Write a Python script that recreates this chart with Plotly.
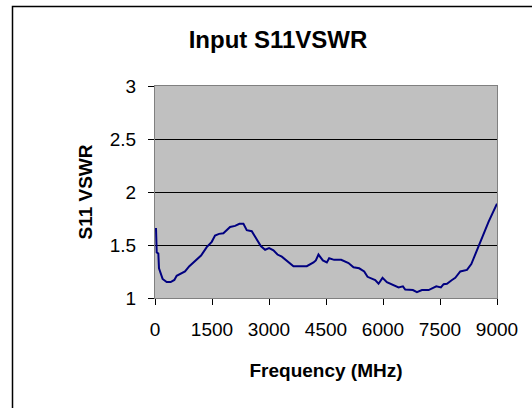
import plotly.graph_objects as go

title_text = "Input S11VSWR"
x_title = "Frequency (MHz)"
y_title = "S11 VSWR"

freq_mhz = [26, 45, 88, 105, 200, 307, 413, 509, 570, 702, 790, 904, 1054, 1212, 1361,
            1493, 1580, 1686, 1800, 1976, 2107, 2221, 2327, 2415, 2546, 2678, 2784, 2898,
            3003, 3117, 3223, 3337, 3468, 3644, 3776, 3995, 4171, 4232, 4302, 4417, 4522,
            4583, 4715, 4900, 5093, 5224, 5373, 5505, 5593, 5795, 5883, 5988, 6102, 6278,
            6410, 6524, 6585, 6787, 6893, 7024, 7200, 7402, 7524, 7595, 7683, 7815, 7902,
            8034, 8210, 8324, 8517, 8693, 8780, 9000]
vswr = [1.66, 1.43, 1.42, 1.28, 1.18, 1.15, 1.15, 1.17, 1.21, 1.235, 1.25, 1.30, 1.35, 1.40, 1.48,
        1.53, 1.59, 1.605, 1.61, 1.67, 1.68, 1.70, 1.70, 1.64, 1.63, 1.55, 1.49, 1.455,
        1.47, 1.45, 1.41, 1.39, 1.355, 1.30, 1.30, 1.30, 1.335, 1.355, 1.41, 1.355, 1.335,
        1.375, 1.36, 1.36, 1.33, 1.29, 1.28, 1.25, 1.20, 1.17, 1.135, 1.19, 1.15, 1.12,
        1.10, 1.11, 1.08, 1.075, 1.056, 1.075, 1.075, 1.11, 1.10, 1.13, 1.135, 1.17, 1.19,
        1.25, 1.265, 1.32, 1.49, 1.66, 1.72, 1.89]

x_ticks = [0, 1500, 3000, 4500, 6000, 7500, 9000]
y_ticks = [1, 1.5, 2, 2.5, 3]

fig = go.Figure()
fig.add_trace(go.Scatter(x=freq_mhz, y=vswr, mode="lines",
                         line=dict(color="#000080", width=2), showlegend=False))

font_family = "Arial, Liberation Sans, sans-serif"

fig.update_layout(
    width=532, height=408,
    margin=dict(l=155, r=35, t=86, b=110),
    paper_bgcolor="white",
    plot_bgcolor="#C0C0C0",
    font=dict(family=font_family, color="black", size=19),
    title=dict(text="<b>" + title_text + "</b>", x=278 / 532, xanchor="center",
               y=1 - 40 / 408, yanchor="middle",
               font=dict(size=24, family=font_family, color="black")),
    xaxis=dict(range=[0, 9000], tickmode="array", tickvals=x_ticks,
               ticktext=[str(v) for v in x_ticks],
               showgrid=False, zeroline=False,
               showline=True, linecolor="#808080", linewidth=1, mirror=True,
               ticks="outside", ticklen=6, tickcolor="black", tickwidth=1,
               ticklabelstandoff=8,
               tickfont=dict(size=19),
               title=dict(text="<b>" + x_title + "</b>", font=dict(size=19), standoff=24)),
    yaxis=dict(range=[1, 3], tickmode="array", tickvals=y_ticks,
               ticktext=["1", "1.5", "2", "2.5", "3"],
               showgrid=True, gridcolor="black", gridwidth=1, zeroline=False,
               showline=True, linecolor="#808080", linewidth=1, mirror=True,
               ticks="outside", ticklen=6, tickcolor="black", tickwidth=1,
               ticklabelstandoff=8,
               tickfont=dict(size=19),
               title=dict(text="<b>" + y_title + "</b>", font=dict(size=19), standoff=12)),
    shapes=[dict(type="rect", xref="paper", yref="paper",
                 x0=(12.5 - 155) / 342, x1=(545 - 155) / 342,
                 y0=(298 - 420) / 212, y1=(298 - 6.5) / 212,
                 line=dict(color="black", width=1.5), fillcolor="rgba(0,0,0,0)",
                 layer="above")],
)

fig.write_html("out.html", config={"displayModeBar": False},
               post_script="document.body.style.margin='0';")
